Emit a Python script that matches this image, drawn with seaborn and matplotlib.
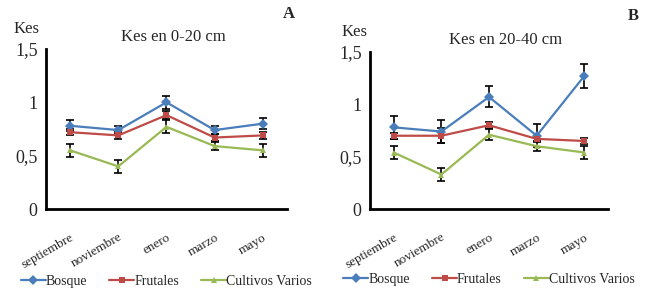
import numpy as np
import pandas as pd
import seaborn as sns
import matplotlib.pyplot as plt

meses = ['septiembre', 'noviembre', 'enero', 'marzo', 'mayo']
series = ['Bosque', 'Frutales', 'Cultivos Varios']
colores = ['#4a7ebb', '#be4b48', '#98b954']
marcadores = ['D', 's', '^']

# panel A: 0-20 cm
bosque_a = [0.78, 0.74, 1.00, 0.74, 0.80]
frutales_a = [0.72, 0.69, 0.88, 0.67, 0.69]
cultivos_a = [0.55, 0.40, 0.77, 0.59, 0.55]
err_bosque_a = [0.05, 0.04, 0.06, 0.04, 0.05]
err_frutales_a = [0.03, 0.03, 0.04, 0.03, 0.03]
err_cultivos_a = [0.06, 0.06, 0.06, 0.04, 0.06]

# panel B: 20-40 cm
bosque_b = [0.78, 0.74, 1.07, 0.70, 1.27]
frutales_b = [0.70, 0.70, 0.80, 0.67, 0.65]
cultivos_b = [0.54, 0.33, 0.71, 0.60, 0.54]
err_bosque_b = [0.11, 0.11, 0.10, 0.11, 0.11]
err_frutales_b = [0.03, 0.07, 0.03, 0.03, 0.03]
err_cultivos_b = [0.06, 0.06, 0.05, 0.05, 0.06]

titulos = ['Kes en 0-20 cm', 'Kes en 20-40 cm']
letras = ['A', 'B']

sns.set_style('white')
plt.rcParams['font.family'] = ['Liberation Serif', 'DejaVu Serif']

fig = plt.figure(figsize=(6.49, 3.0), dpi=100)
ax_a = fig.add_axes([0.071, 0.303, 0.371, 0.534])
ax_b = fig.add_axes([0.570, 0.303, 0.367, 0.524])

paneles = [
    (ax_a, [bosque_a, frutales_a, cultivos_a], [err_bosque_a, err_frutales_a, err_cultivos_a]),
    (ax_b, [bosque_b, frutales_b, cultivos_b], [err_bosque_b, err_frutales_b, err_cultivos_b]),
]
# posiciones de textos (en coordenadas de ejes)
pos_kes = [(-0.137, 1.10), (-0.118, 1.10)]
pos_letra = [(1.01, 1.19), (1.105, 1.20)]
pos_titulo = [0.53, 0.57]

for i, (ax, vals, errs) in enumerate(paneles):
    df = pd.DataFrame({
        'mes': meses * 3,
        'serie': np.repeat(series, len(meses)),
        'kes': np.concatenate(vals),
    })
    x = np.arange(len(meses))
    for v, e in zip(vals, errs):
        ax.errorbar(x, v, yerr=e, fmt='none', ecolor='black', elinewidth=1.2,
                    capsize=3, capthick=1.2, zorder=1)
    sns.lineplot(data=df, x='mes', y='kes', hue='serie', style='serie',
                 palette=colores, markers=marcadores, dashes=False,
                 markersize=5, linewidth=1.6, markeredgewidth=0,
                 sort=False, ax=ax, zorder=2)

    ax.set_xlim(-0.5, 4.5)
    ax.set_ylim(0, 1.5)
    ax.set_yticks([0, 0.5, 1, 1.5])
    ax.set_yticklabels(['0', '0,5', '1', '1,5'], fontsize=13)
    ax.set_xticks(x)
    ax.set_xticklabels(meses, rotation=30, ha='right', rotation_mode='anchor', fontsize=9.5)
    ax.set_xticks(np.arange(-0.5, 5), minor=True)
    ax.tick_params(axis='x', which='major', length=0, pad=16)
    ax.tick_params(axis='x', which='minor', length=4, width=1.5, direction='out', color='black')
    ax.tick_params(axis='y', length=0, pad=6)
    ax.set_xlabel('')
    ax.set_ylabel('')
    for s in ['top', 'right']:
        ax.spines[s].set_visible(False)
    for s in ['left', 'bottom']:
        ax.spines[s].set_color('black')
        ax.spines[s].set_linewidth(2)
    ax.set_title(titulos[i], fontsize=12, pad=6, x=pos_titulo[i])
    ax.text(*pos_kes[i], 'Kes', transform=ax.transAxes, fontsize=12, ha='left')
    ax.text(*pos_letra[i], letras[i], transform=ax.transAxes, fontsize=12,
            fontweight='bold', ha='center')
    ax.legend(loc='center', bbox_to_anchor=(0.5, -0.45), ncol=3,
              frameon=False, fontsize=10, handlelength=1.8, handletextpad=0.0,
              columnspacing=1.6)

fig.savefig('out.png', dpi=100)
